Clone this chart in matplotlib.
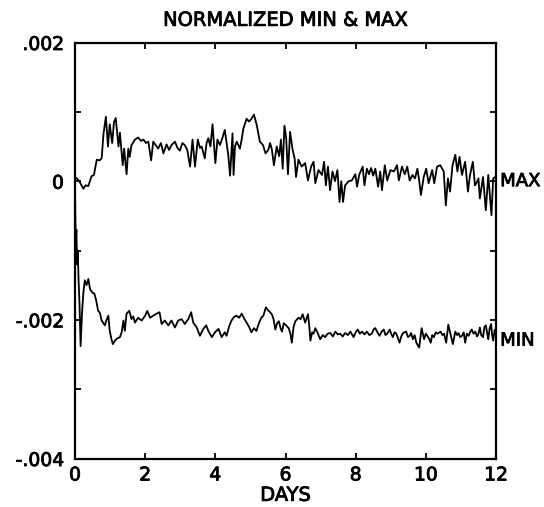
import matplotlib
matplotlib.use("Agg")
import matplotlib.pyplot as plt
import matplotlib.patheffects as pe

# values in units of 0.001
max_days = [0.00, 0.05, 0.12, 0.24, 0.30, 0.38, 0.47, 0.54, 0.62, 0.70, 0.76, 0.81, 0.88, 0.94, 0.99,
            1.06, 1.11, 1.16, 1.24, 1.28, 1.36, 1.40, 1.47, 1.52, 1.56, 1.61, 1.71, 1.80, 1.88, 1.95,
            2.02, 2.09, 2.17, 2.23, 2.30, 2.37, 2.45, 2.52, 2.61, 2.68, 2.75, 2.85, 2.92, 2.99,
            3.06, 3.13, 3.20, 3.28, 3.35, 3.42, 3.50, 3.56, 3.61, 3.70, 3.75, 3.80, 3.86, 3.92,
            4.00, 4.06, 4.13, 4.20, 4.27, 4.37, 4.42, 4.49, 4.52, 4.56, 4.61, 4.70, 4.75, 4.80, 4.89, 4.96,
            5.03, 5.10, 5.18, 5.22, 5.27, 5.36, 5.43, 5.51, 5.56, 5.61, 5.67, 5.75, 5.82, 5.87, 5.92, 5.97,
            6.02, 6.07, 6.13, 6.20, 6.26, 6.30, 6.37, 6.46, 6.56, 6.64, 6.73, 6.80, 6.85, 6.94,
            7.04, 7.10, 7.15, 7.21, 7.27, 7.34, 7.41, 7.48, 7.54, 7.59, 7.64, 7.70, 7.80, 7.89, 7.99,
            8.04, 8.10, 8.20, 8.25, 8.32, 8.38, 8.44, 8.50, 8.56, 8.64, 8.70, 8.75, 8.83, 8.90, 8.99,
            9.09, 9.18, 9.23, 9.32, 9.40, 9.47, 9.54, 9.62, 9.69, 9.76, 9.81, 9.86, 9.94,
            10.01, 10.08, 10.18, 10.24, 10.32, 10.41, 10.51, 10.57, 10.63, 10.69, 10.76, 10.84, 10.90, 10.96,
            11.03, 11.12, 11.20, 11.26, 11.34, 11.40, 11.44, 11.50, 11.54, 11.63, 11.71, 11.78, 11.87, 11.92, 12.00]
max_vals = [0.06, 0.04, 0.00, -0.11, -0.06, -0.07, 0.07, 0.09, 0.31, 0.30, 0.33, 0.67, 0.93, 0.50, 0.82,
            0.55, 0.85, 0.91, 0.50, 0.70, 0.23, 0.47, 0.10, 0.47, 0.35, 0.52, 0.60, 0.63, 0.58, 0.60,
            0.55, 0.57, 0.30, 0.57, 0.52, 0.47, 0.55, 0.40, 0.53, 0.45, 0.52, 0.57, 0.48, 0.44,
            0.55, 0.52, 0.45, 0.21, 0.60, 0.21, 0.60, 0.48, 0.50, 0.33, 0.55, 0.62, 0.50, 0.82,
            0.26, 0.60, 0.52, 0.62, 0.74, 0.37, 0.08, 0.69, 0.09, 0.50, 0.57, 0.47, 0.60, 0.76, 0.90, 0.86,
            0.90, 0.96, 0.81, 0.70, 0.57, 0.52, 0.40, 0.45, 0.55, 0.46, 0.23, 0.50, 0.36, 0.60, 0.18, 0.80,
            0.62, 0.10, 0.71, 0.46, 0.33, 0.06, 0.31, 0.21, 0.26, 0.01, 0.21, 0.28, -0.03, 0.16,
            0.09, 0.28, -0.06, 0.21, -0.13, 0.14, 0.00, 0.16, -0.30, 0.00, -0.30, -0.06, 0.00, 0.01, 0.10,
            -0.08, 0.09, 0.21, -0.06, 0.18, 0.10, 0.19, 0.08, 0.18, -0.08, 0.14, -0.13, 0.23, 0.01, 0.16,
            0.14, 0.23, 0.01, 0.21, 0.10, 0.21, 0.01, 0.09, 0.04, 0.18, 0.01, -0.20, 0.06,
            0.18, -0.03, 0.16, -0.03, 0.21, 0.23, 0.14, -0.35, 0.04, -0.15, 0.23, 0.38, 0.14, 0.35,
            0.09, 0.28, -0.15, 0.09, 0.28, -0.06, -0.03, 0.04, -0.25, 0.06, -0.42, 0.09, -0.49, 0.04, 0.07]

min_days = [0.00, 0.02, 0.04, 0.06, 0.08, 0.10, 0.13, 0.16, 0.20, 0.24, 0.28, 0.33, 0.38, 0.43, 0.50,
            0.55, 0.60, 0.66, 0.71, 0.76, 0.85, 0.90, 0.95, 0.99, 1.04, 1.08, 1.14, 1.20, 1.28, 1.33,
            1.38, 1.42, 1.47, 1.55, 1.61, 1.66, 1.71, 1.80, 1.90, 2.00, 2.06, 2.14, 2.23, 2.33, 2.41,
            2.47, 2.56, 2.66, 2.75, 2.85, 2.94, 3.04, 3.13, 3.23, 3.31, 3.37, 3.47, 3.56, 3.66, 3.74,
            3.80, 3.90, 3.99, 4.09, 4.18, 4.27, 4.32, 4.39, 4.46, 4.53, 4.60, 4.68, 4.75, 4.82, 4.89,
            4.96, 5.03, 5.10, 5.17, 5.24, 5.31, 5.37, 5.44, 5.50, 5.56, 5.61, 5.66, 5.71, 5.76, 5.81,
            5.86, 5.90, 5.95, 6.00, 6.09, 6.14, 6.18, 6.23, 6.28, 6.37, 6.43, 6.49, 6.56, 6.64, 6.68,
            6.71, 6.76, 6.80, 6.85, 6.90, 6.99, 7.06, 7.13, 7.20, 7.28, 7.35, 7.42, 7.49, 7.56, 7.63,
            7.70, 7.78, 7.85, 7.94, 8.00, 8.06, 8.12, 8.18, 8.25, 8.32, 8.39, 8.46, 8.52, 8.56, 8.62,
            8.68, 8.74, 8.80, 8.85, 8.90, 8.97, 9.02, 9.06, 9.11, 9.16, 9.25, 9.30, 9.35, 9.44, 9.49,
            9.54, 9.58, 9.63, 9.68, 9.73, 9.81, 9.88, 9.95, 10.00, 10.04, 10.09, 10.14, 10.18, 10.23,
            10.28, 10.33, 10.42, 10.47, 10.52, 10.58, 10.64, 10.70, 10.77, 10.84, 10.89, 10.93, 10.98,
            11.03, 11.08, 11.12, 11.17, 11.22, 11.27, 11.31, 11.36, 11.41, 11.46, 11.50, 11.54, 11.58,
            11.63, 11.67, 11.71, 11.75, 11.78, 11.82, 11.86, 11.89, 11.92, 11.96, 12.00]
min_vals = [-0.10, -0.90, -0.70, -1.20, -1.00, -1.40, -1.80, -2.38, -1.90, -1.60, -1.43, -1.50, -1.41, -1.56, -1.61,
            -1.62, -1.71, -1.87, -1.90, -2.01, -2.08, -2.00, -1.94, -2.16, -2.28, -2.35, -2.30, -2.27, -2.25, -2.18,
            -2.01, -2.16, -1.91, -1.87, -1.99, -1.95, -2.04, -1.97, -2.01, -1.94, -1.87, -1.97, -1.94, -1.91, -1.89,
            -2.06, -2.01, -2.08, -2.01, -2.11, -2.01, -1.99, -2.06, -1.99, -1.89, -2.04, -2.11, -2.23, -2.13, -2.08,
            -2.16, -2.25, -2.18, -2.13, -2.25, -2.18, -2.23, -2.10, -2.01, -1.96, -1.94, -1.97, -1.91, -1.98, -2.04,
            -2.10, -2.18, -2.12, -2.16, -2.05, -1.97, -1.94, -1.82, -1.86, -1.89, -1.92, -1.99, -2.14, -2.05, -2.02,
            -2.12, -2.17, -2.05, -2.07, -2.12, -2.20, -2.33, -2.10, -2.02, -1.97, -1.99, -1.92, -2.04, -1.92, -2.10,
            -2.30, -2.18, -2.20, -2.12, -2.17, -2.28, -2.22, -2.25, -2.20, -2.19, -2.24, -2.17, -2.21, -2.20, -2.24,
            -2.19, -2.22, -2.17, -2.25, -2.18, -2.14, -2.20, -2.17, -2.21, -2.17, -2.22, -2.20, -2.13, -2.12, -2.18,
            -2.23, -2.17, -2.14, -2.22, -2.20, -2.14, -2.21, -2.25, -2.18, -2.20, -2.33, -2.24, -2.19, -2.17, -2.25,
            -2.23, -2.19, -2.28, -2.22, -2.33, -2.40, -2.12, -2.28, -2.20, -2.23, -2.27, -2.33, -2.22, -2.25,
            -2.18, -2.20, -2.17, -2.22, -2.20, -2.33, -2.07, -2.20, -2.35, -2.17, -2.22, -2.19, -2.25,
            -2.23, -2.18, -2.33, -2.20, -2.23, -2.17, -2.14, -2.20, -2.17, -2.24, -2.20, -2.11, -2.22,
            -2.25, -2.10, -2.08, -2.20, -2.28, -2.12, -2.06, -2.22, -2.30, -2.15, -2.13]

x_ticks = [0, 2, 4, 6, 8, 10, 12]
y_ticks = [-4, -3, -2, -1, 0, 1, 2]
y_tick_labels = ["-.004", "", "-.002", "", "0", "", ".002"]

plt.rcParams['font.family'] = ['DejaVu Sans']
fx = [pe.withStroke(linewidth=0.6, foreground='black')]

fig = plt.figure(figsize=(5.44, 5.07), dpi=100)
ax = fig.add_axes([75/544, 1 - 458.5/507, 421/544, 416/507])

ax.plot(max_days, max_vals, color='black', lw=1.3)
ax.plot(min_days, min_vals, color='black', lw=1.3)

ax.set_xlim(0, 12)
ax.set_ylim(-4, 2)
ax.set_xticks(x_ticks)
ax.set_xticklabels([str(t) for t in x_ticks])
ax.set_yticks(y_ticks)
ax.set_yticklabels(y_tick_labels)
ax.tick_params(direction='in', length=4, width=1.3, top=True, right=True, labelsize=13.5)
ax.tick_params(axis='y', pad=8)
ax.tick_params(axis='x', pad=5)
for s in ax.spines.values():
    s.set_linewidth(1.6)
for lbl in ax.get_xticklabels() + ax.get_yticklabels():
    lbl.set_path_effects(fx)

t = ax.set_title("NORMALIZED MIN & MAX", fontsize=14, pad=12)
t.set_path_effects(fx)
xl = ax.set_xlabel("DAYS", fontsize=14, labelpad=1)
xl.set_path_effects(fx)

a1 = ax.annotate("MAX", xy=(12, 0.0), xytext=(3, 0), textcoords='offset points',
                 ha='left', va='center', fontsize=13, annotation_clip=False)
a2 = ax.annotate("MIN", xy=(12, -2.3), xytext=(3, 0), textcoords='offset points',
                 ha='left', va='center', fontsize=13, annotation_clip=False)
a1.set_path_effects(fx)
a2.set_path_effects(fx)

fig.savefig("out.png", dpi=100)
